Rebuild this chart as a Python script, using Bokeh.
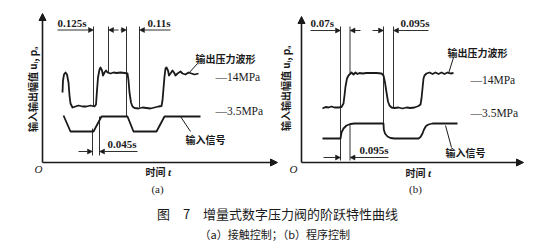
import numpy as np
from bokeh.plotting import figure
from bokeh.models import ColumnDataSource, Arrow, NormalHead, Range1d
from bokeh.core.properties import value
from bokeh.embed import file_html
from bokeh.resources import INLINE

W, H = 554, 245

# ---------------- data (diagram units = picture pixels, y downwards) ----------------
# Panel (a): output pressure trace
out_a_x = [62, 62.5, 63.5, 65, 66.5, 68, 69, 70, 72, 75, 78, 82, 86, 90, 94, 95.5, 96.5, 97.5, 99, 100,
           101.5, 102.5, 104, 105.5, 107, 110, 113, 116, 120, 124, 127, 128, 129, 130.5, 132, 134, 138,
           142, 146, 150, 154, 158, 161, 162, 163, 164, 165, 166, 167.5, 168.5, 170, 172, 173.5, 175,
           177, 180, 182, 185, 188, 191, 194, 198]
out_a_y = [92, 80, 74, 72, 74, 82, 95, 103, 107, 106, 105, 106, 106, 105, 106, 104, 90, 77, 69, 67,
           70, 75, 72, 70, 72, 73, 72, 72.5, 72, 72.5, 73, 80, 92, 102, 106, 107.5, 108,
           107, 107.5, 108, 107, 106, 105.5, 100, 88, 76, 68, 67, 70, 75, 73, 70, 72, 75,
           73, 71, 73, 74, 72, 73, 74, 73]
# Panel (a): input signal (trapezoid)
in_a_x = [63, 70, 93, 101, 127, 133, 156, 164, 200]
in_a_y = [115, 131, 131, 116, 116, 131, 131, 116, 116]

# Panel (b): output pressure trace
out_b_x = [322, 325, 328, 331, 334, 338, 341, 343, 344, 345, 346.5, 348, 349.5, 351, 353, 355, 357,
           359, 362, 366, 370, 376, 381, 383, 384.5, 386, 387.5, 389, 391, 394, 398, 402, 406, 410,
           414, 418, 420, 421, 422, 423, 424, 426, 429, 432, 435, 438, 441, 444, 447, 450, 453]
out_b_y = [108, 106.5, 107, 106, 107, 107, 106.5, 103, 95, 86, 78, 75, 73.5, 72, 74, 72, 73.5,
           72.5, 73, 72.5, 72.5, 72.5, 73, 75, 82, 92, 101, 105, 107, 107.5, 107, 108, 107, 107.5,
           107, 105.5, 104, 98, 88, 78, 75, 73, 72, 73.5, 72, 73.5, 72, 73.5, 72, 73, 72.5]
# Panel (b): input signal (first-order steps)
in_b_x = [322, 340, 341, 343, 346, 350, 354, 383, 383.3, 384.5, 387, 390, 394, 418, 420, 422, 423.5,
          425.5, 428, 432, 457]
in_b_y = [138, 138, 132, 128, 125, 123.5, 123, 123, 129, 133, 136, 137.5, 138, 138, 136.5, 133, 129,
          125.5, 124, 123, 123]

# axes with arrow heads (start -> end)
axis_x0 = [42, 42, 301, 301]
axis_y0 = [162, 162, 162, 162]
axis_x1 = [42, 277, 301, 523]
axis_y1 = [13, 162, 16, 162]

# extension (reference) lines
ext_x0 = [93, 108, 126, 139, 92, 99, 340, 349.5, 349.5, 383, 393]
ext_y0 = [26, 26, 26, 26, 128, 116, 26, 26, 123, 26, 26]
ext_x1 = ext_x0
ext_y1 = [106, 72, 116, 107, 155, 155, 160, 73, 160, 123, 107]

# dimension arrows (tail -> head)
dim_x0 = [57, 118, 120, 170, 78, 137, 310, 360, 372, 428, 323, 388]
dim_y0 = [29.5, 29.5, 29.5, 29.5, 151, 151, 30, 30, 30, 30, 157, 157]
dim_x1 = [93, 108, 126, 139, 92, 99, 340, 349.5, 383, 393, 340, 349.5]
dim_y1 = dim_y0

# dimension texts
dim_labels = ["0.125s", "0.11s", "0.045s", "0.07s", "0.095s", "0.095s"]
dim_lx = [57, 147, 107, 310, 400, 359]
dim_ly = [28, 28, 149.5, 28.5, 28.5, 155.5]

# leader lines
lead_x0 = [197, 180, 453, 445]
lead_y0 = [63, 116, 57, 125]
lead_x1 = [188, 190, 448, 451]
lead_y1 = [73, 131, 73, 147]

# Chinese labels
cn_labels = ["输出压力波形", "输入信号", "输出压力波形", "输入信号"]
cn_lx = [195, 185, 447, 445]
cn_ly = [58, 139, 52, 152]
cn_size = ["9px", "10.5px", "10px", "10.5px"]

# pressure level labels
lvl_labels = ["—14MPa", "—3.5MPa", "—14MPa", "—3.5MPa"]
lvl_lx = [215, 215, 470, 470]
lvl_ly = [76, 110, 79, 112]

# axis titles
ylab = "输入输出幅值 uᵢ, pₒ"
ylab_x = [32, 285]
ylab_y = [89, 88]
xlab_x = [155, 415]
xlab_y = [171, 172]
orig_x = [38, 293]
orig_y = [168, 168]
panel_tags = ["(a)", "(b)"]
tag_x = [157, 415]
tag_y = [188, 188]

caption1 = "图　7　增量式数字压力阀的阶跃特性曲线"
caption2 = "（a）接触控制；（b）程序控制"

# ---------------- figure ----------------
p = figure(width=W, height=H, x_range=Range1d(0, W), y_range=Range1d(H, 0),
           output_backend="svg", toolbar_location=None, min_border=0)
p.axis.visible = False
p.grid.visible = False
p.outline_line_color = None
p.background_fill_color = "white"
p.border_fill_color = "white"

ink = "#1a1a1a"

# axes
p.add_layout(Arrow(end=NormalHead(size=7, fill_color=ink, line_color=ink, line_width=1),
                   x_start="x0", y_start="y0", x_end="x1", y_end="y1",
                   source=ColumnDataSource(dict(x0=axis_x0, y0=axis_y0, x1=axis_x1, y1=axis_y1)),
                   line_width=1.6, line_color=ink))

# traces
for xs, ys in [(out_a_x, out_a_y), (in_a_x, in_a_y), (out_b_x, out_b_y), (in_b_x, in_b_y)]:
    p.line(xs, ys, line_width=1.8, line_color=ink, line_join="round")

# extension lines
p.segment(ext_x0, ext_y0, ext_x1, ext_y1, line_width=0.9, line_color=ink)
# leader lines
p.segment(lead_x0, lead_y0, lead_x1, lead_y1, line_width=1.0, line_color=ink)

# dimension arrows
p.add_layout(Arrow(end=NormalHead(size=5, fill_color=ink, line_color=ink, line_width=0.5),
                   x_start="x0", y_start="y0", x_end="x1", y_end="y1",
                   source=ColumnDataSource(dict(x0=dim_x0, y0=dim_y0, x1=dim_x1, y1=dim_y1)),
                   line_width=0.9, line_color=ink))

serif = value("Liberation Serif")
cjk = value("Noto Sans CJK SC")

p.text(x=dim_lx, y=dim_ly, text=dim_labels, text_font=serif, text_font_size="11px",
       text_font_style="bold", text_baseline="bottom", text_align="left", text_color=ink)
p.text(x=cn_lx, y=cn_ly, text=cn_labels, text_font=cjk, text_font_size="10px",
       text_font_style="bold", text_baseline="middle", text_align="left", text_color=ink)
p.text(x=lvl_lx, y=lvl_ly, text=lvl_labels, text_font=serif, text_font_size="11.5px",
       text_baseline="middle", text_align="left", text_color=ink)
p.text(x=ylab_x, y=ylab_y, text=[ylab, ylab], text_font=cjk, text_font_size="10px",
       text_font_style="bold", text_baseline="middle", text_align="center", angle=np.pi / 2,
       text_color=ink)
p.text(x=xlab_x, y=xlab_y, text=["时间", "时间"], text_font=cjk, text_font_size="10px",
       text_font_style="bold", text_baseline="middle", text_align="center", text_color=ink)
p.text(x=[x + 14 for x in xlab_x], y=xlab_y, text=["t", "t"], text_font=serif,
       text_font_size="11px", text_font_style="bold italic", text_baseline="middle",
       text_align="center", text_color=ink)
p.text(x=orig_x, y=orig_y, text=["O", "O"], text_font=serif, text_font_size="11px",
       text_font_style="italic", text_baseline="middle", text_align="center", text_color=ink)
p.text(x=tag_x, y=tag_y, text=panel_tags, text_font=serif, text_font_size="11px",
       text_baseline="middle", text_align="center", text_color=ink)
p.text(x=[W / 2], y=[213], text=[caption1], text_font=cjk, text_font_size="13px",
       text_baseline="middle", text_align="center", text_color=ink)
p.text(x=[W / 2], y=[233], text=[caption2], text_font=cjk, text_font_size="11px",
       text_baseline="middle", text_align="center", text_color=ink)

open("out.html", "w").write(file_html(p, INLINE))
